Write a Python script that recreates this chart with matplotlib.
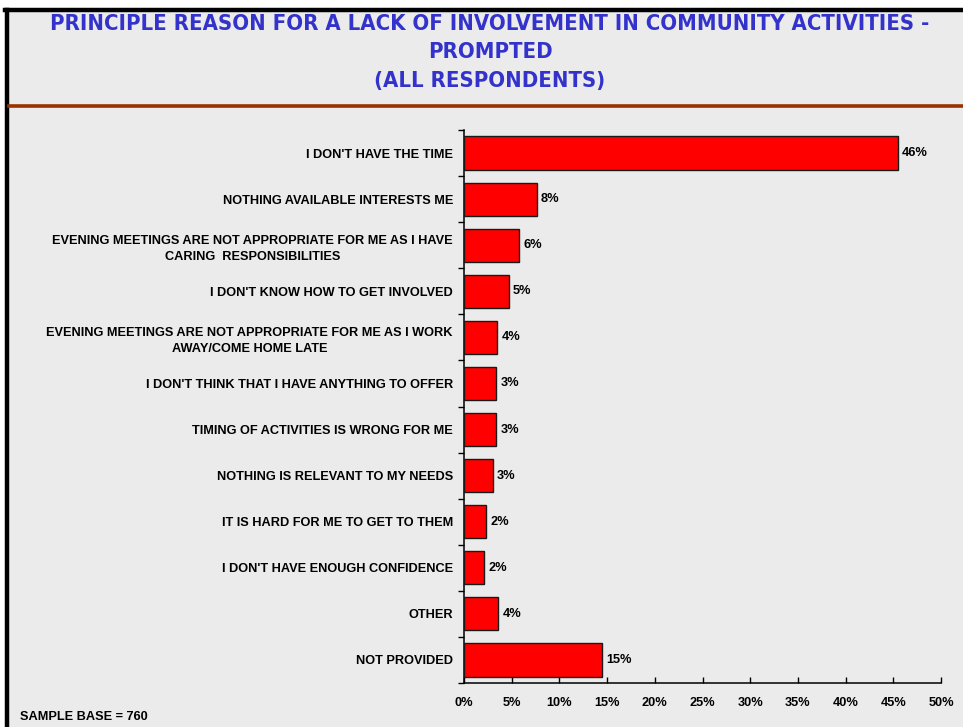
import matplotlib
matplotlib.use("Agg")
import matplotlib.pyplot as plt
from matplotlib.patches import Rectangle
from matplotlib.lines import Line2D
from matplotlib.ticker import FixedLocator, FuncFormatter

categories = [
    "I DON'T HAVE THE TIME",
    "NOTHING AVAILABLE INTERESTS ME",
    "EVENING MEETINGS ARE NOT APPROPRIATE FOR ME AS I HAVE\nCARING  RESPONSIBILITIES",
    "I DON'T KNOW HOW TO GET INVOLVED",
    "EVENING MEETINGS ARE NOT APPROPRIATE FOR ME AS I WORK\nAWAY/COME HOME LATE",
    "I DON'T THINK THAT I HAVE ANYTHING TO OFFER",
    "TIMING OF ACTIVITIES IS WRONG FOR ME",
    "NOTHING IS RELEVANT TO MY NEEDS",
    "IT IS HARD FOR ME TO GET TO THEM",
    "I DON'T HAVE ENOUGH CONFIDENCE",
    "OTHER",
    "NOT PROVIDED",
]
values = [45.5, 7.6, 5.8, 4.7, 3.5, 3.4, 3.4, 3.0, 2.3, 2.1, 3.6, 14.5]
value_labels = ["46%", "8%", "6%", "5%", "4%", "3%", "3%", "3%", "2%", "2%", "4%", "15%"]
x_ticks = [0, 5, 10, 15, 20, 25, 30, 35, 40, 45, 50]

title_lines = [
    "PRINCIPLE REASON FOR A LACK OF INVOLVEMENT IN COMMUNITY ACTIVITIES -",
    "PROMPTED",
    "(ALL RESPONDENTS)",
]
title_y = [24, 52, 81]

W, H = 963, 727
FS = 9.2
fig = plt.figure(figsize=(W / 100, H / 100), dpi=100)
fig.patch.set_facecolor("white")

panel = Rectangle((7 / W, 0), 1 - 7 / W, 1 - 9.5 / H, transform=fig.transFigure,
                  facecolor="#ebebeb", edgecolor="none", zorder=-5)
fig.patches.append(panel)
fig.add_artist(Line2D([7 / W, 7 / W], [0, 1 - 9.5 / H], transform=fig.transFigure,
                      color="black", lw=3.2, zorder=1))
fig.add_artist(Line2D([5 / W, 1], [1 - 9.5 / H, 1 - 9.5 / H], transform=fig.transFigure,
                      color="black", lw=3.2, zorder=1))
fig.add_artist(Line2D([9 / W, 1], [1 - 105.5 / H, 1 - 105.5 / H], transform=fig.transFigure,
                      color="#993300", lw=2.6, zorder=1))

fig.text(31 / W, 1 + 6 / H, "g", fontsize=11, color="black", ha="left", va="baseline",
         family="Liberation Sans")

for line, yy in zip(title_lines, title_y):
    fig.text(490 / W, 1 - yy / H, line, ha="center", va="center", color="#3333cc",
             fontsize=15.8, fontweight="bold", family="DejaVu Sans", stretch="condensed")

ax = fig.add_axes([464 / W, 1 - 683 / H, 477 / W, 553 / H])
ax.set_zorder(3)
ax.set_facecolor("none")
n = len(categories)
ypos = list(range(n))
ax.barh(ypos, values, height=0.72, color="#ff0000", edgecolor="#1a1a1a", linewidth=1.0, zorder=3)
ax.set_ylim(n - 0.5, -0.5)
ax.set_xlim(0, 50)

for y, v, lab in zip(ypos, values, value_labels):
    ax.annotate(lab, (v, y), xytext=(3, 0), textcoords="offset points", va="center",
                ha="left", fontsize=FS, fontweight="bold", family="Liberation Sans")

ax.set_yticks(ypos)
ax.set_yticklabels(categories, fontsize=FS, fontweight="bold", family="Liberation Sans")
for t in ax.get_yticklabels():
    t.set_multialignment("center")
    t.set_linespacing(1.45)
ax.tick_params(axis="y", which="major", length=0, pad=8)
ax.yaxis.set_minor_locator(FixedLocator([i - 0.5 for i in range(n + 1)]))
ax.tick_params(axis="y", which="minor", length=4, direction="out", width=1)

ax.set_xticks(x_ticks)
ax.xaxis.set_major_formatter(FuncFormatter(lambda v, p: f"{int(v)}%"))
ax.tick_params(axis="x", length=4, direction="in", width=1, pad=10)
for t in ax.get_xticklabels():
    t.set_fontsize(FS)
    t.set_fontweight("bold")
    t.set_family("Liberation Sans")

for s in ["top", "right"]:
    ax.spines[s].set_visible(False)
for s in ["left", "bottom"]:
    ax.spines[s].set_linewidth(1.1)
    ax.spines[s].set_color("black")

fig.text(20 / W, 1 - 717 / H, "SAMPLE BASE = 760", fontsize=FS, fontweight="bold",
         family="Liberation Sans", va="center", ha="left")

fig.savefig("out.png", dpi=100)
